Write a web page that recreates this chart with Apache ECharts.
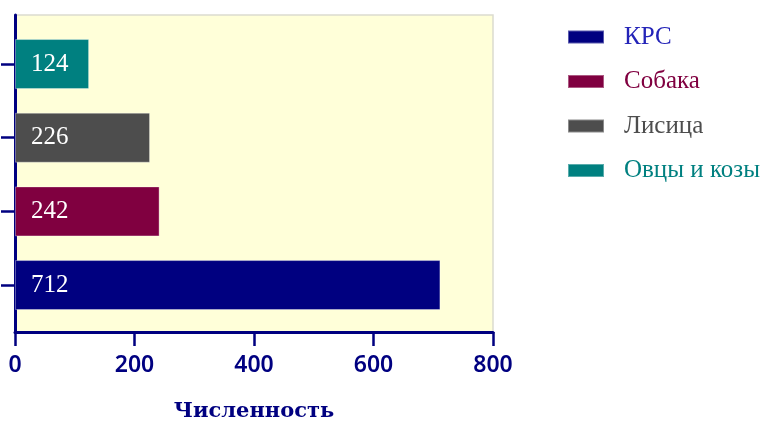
<!DOCTYPE html>
<html>
<head>
<meta charset="utf-8">
<script src="https://cdn.jsdelivr.net/npm/echarts@6/dist/echarts.min.js"></script>
<style>
  html, body { margin: 0; padding: 0; background: #ffffff; }
  #chart { width: 765px; height: 427px; }
</style>
</head>
<body>
<div id="chart"></div>
<script>
// Animal groups, bottom to top
const categories = ['КРС', 'Собака', 'Лисица', 'Овцы и козы'];
const counts = [712, 242, 226, 124];
const barColors = ['#000080', '#800040', '#4D4D4D', '#008080'];
const legendTextColors = ['#2424B8', '#800040', '#4D4D4D', '#008080'];
const xTicks = { min: 0, max: 800, step: 200 };
const axisTitle = 'Численность';

const NAVY = '#000080';

// One series per group, stacked so each occupies its own row at full height
const series = categories.map((name, i) => ({
  name: name,
  type: 'bar',
  xAxisIndex: 1,
  yAxisIndex: 1,
  stack: 'all',
  barWidth: 50,
  data: categories.map((_, j) => (j === i ? counts[i] : '-')),
  itemStyle: {
    color: barColors[i],
    borderColor: 'rgba(255,255,255,0.35)',
    borderWidth: 1
  },
  label: {
    show: true,
    position: 'insideLeft',
    distance: 16,
    color: '#ffffff',
    fontFamily: 'Liberation Serif',
    fontSize: 25
  }
}));

const chart = echarts.init(document.getElementById('chart'), null, { renderer: 'canvas' });
chart.setOption({
  animation: false,
  backgroundColor: '#ffffff',
  grid: [
    // plotting frame with the pale yellow fill and the visible axes
    { left: 15, top: 15, width: 478, height: 319, show: true,
      backgroundColor: '#FFFFD9', borderColor: '#DCDCCF', borderWidth: 1.5 },
    // inner band used to place the rows
    { left: 15, top: 27.2, width: 478, height: 294.7 }
  ],
  xAxis: [
    {
      gridIndex: 0, type: 'value',
      min: xTicks.min, max: xTicks.max, interval: xTicks.step,
      axisLine: { show: true, lineStyle: { color: NAVY, width: 3 } },
      axisTick: { show: true, length: 14, lineStyle: { color: NAVY, width: 2.5 } },
      splitLine: { show: false },
      axisLabel: { margin: 22, color: NAVY, fontFamily: 'Noto Sans', fontWeight: 600, fontSize: 23 },
      name: axisTitle,
      nameLocation: 'middle',
      nameGap: 69,
      nameTextStyle: { color: NAVY, fontFamily: 'DejaVu Serif', fontWeight: 'bold', fontSize: 21 }
    },
    {
      gridIndex: 1, type: 'value',
      min: xTicks.min, max: xTicks.max, interval: xTicks.step,
      show: false
    }
  ],
  yAxis: [
    {
      gridIndex: 0, type: 'value', min: 0, max: 1,
      axisLine: { show: true, lineStyle: { color: NAVY, width: 3 } },
      axisTick: { show: false },
      axisLabel: { show: false },
      splitLine: { show: false }
    },
    {
      gridIndex: 1, type: 'category', data: categories,
      axisLine: { show: false },
      axisTick: { show: true, alignWithLabel: true, length: 14, lineStyle: { color: NAVY, width: 2.5 } },
      axisLabel: { show: false },
      splitLine: { show: false }
    }
  ],
  legend: {
    orient: 'vertical',
    left: 567,
    top: 24,
    padding: 0,
    itemWidth: 36,
    itemHeight: 13,
    itemGap: 18.5,
    icon: 'rect',
    selectedMode: false,
    textStyle: { fontFamily: 'Liberation Serif', fontSize: 25, lineHeight: 26 },
    data: categories.map((name, i) => ({
      name: name,
      textStyle: { color: legendTextColors[i], padding: [0, 0, 0, 15] }
    }))
  },
  series: series
});
</script>
</body>
</html>
